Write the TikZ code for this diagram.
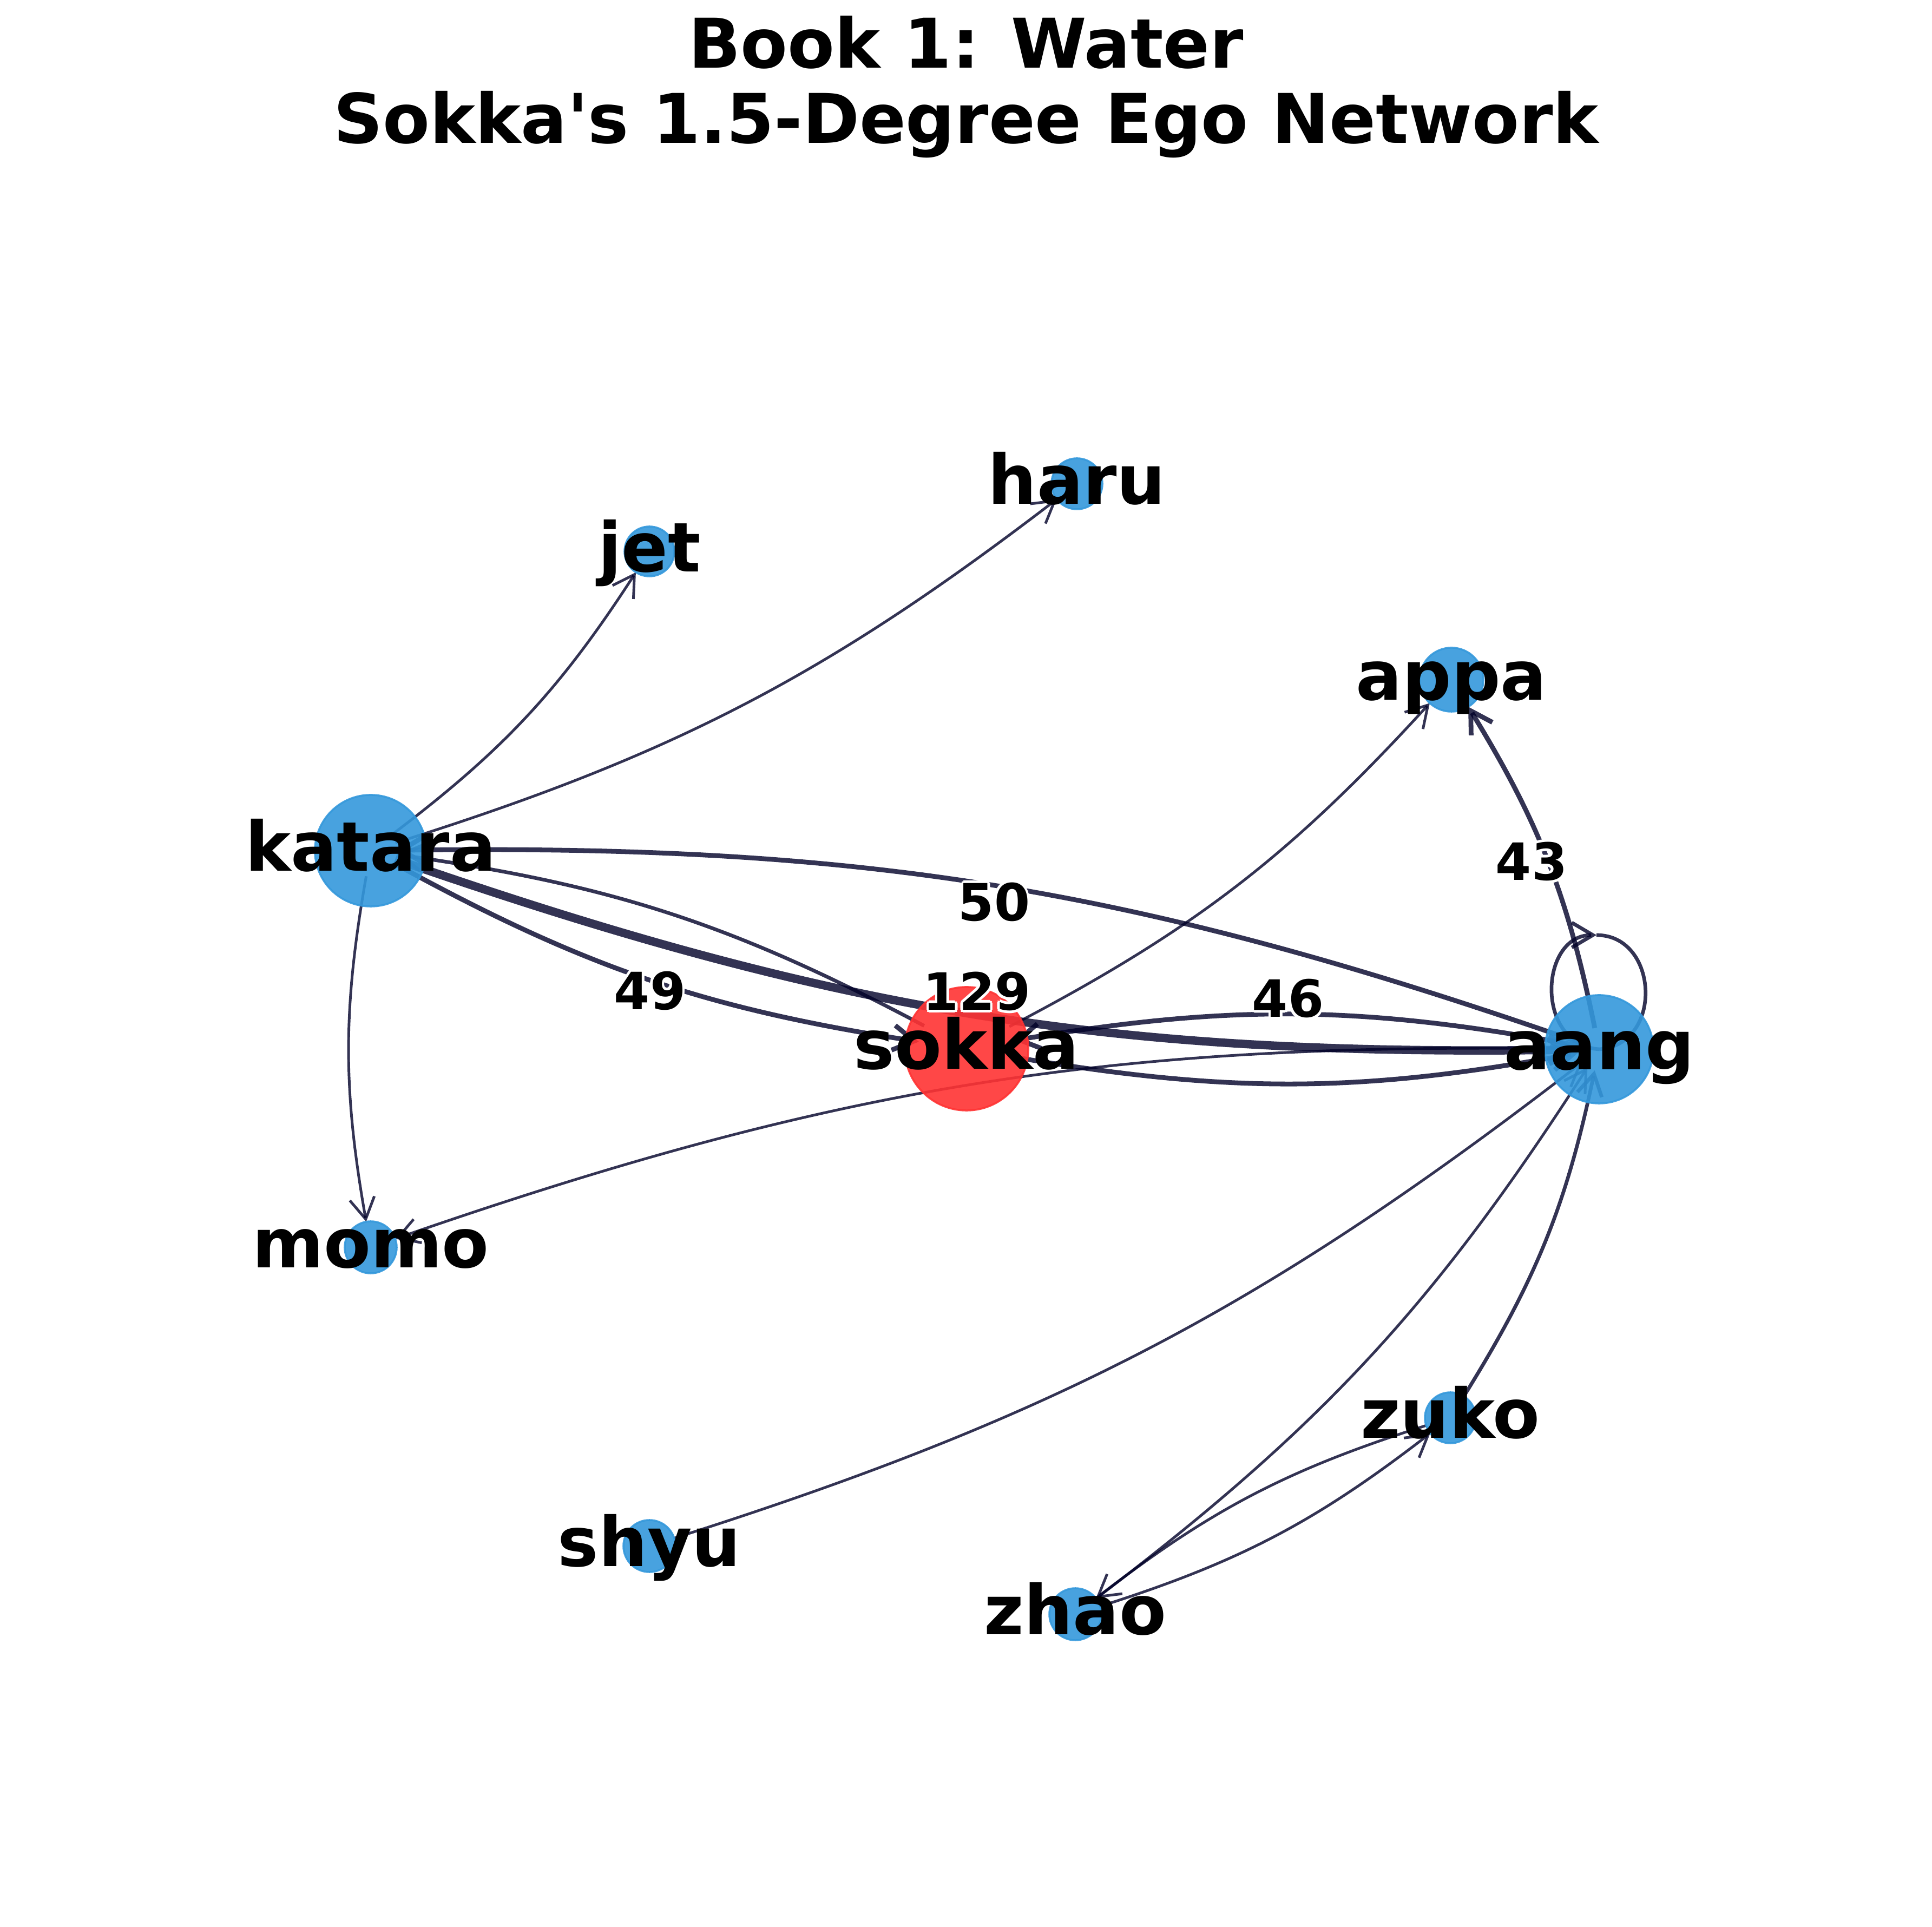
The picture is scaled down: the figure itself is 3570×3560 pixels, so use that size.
\documentclass[tikz,border=0pt]{standalone}
\usepackage{fontspec}
\setmainfont{DejaVu Sans}
\usetikzlibrary{arrows.meta}
\definecolor{nodeblue}{HTML}{3498DB}
\definecolor{egored}{HTML}{FF3333}
\definecolor{edgeink}{RGB}{0,0,40}
\pgfdeclarelayer{edgelayer}
\pgfsetlayers{edgelayer,main}
% white outline behind the weight numbers
\newcommand{\hcopy}[2]{\rlap{\kern#1\raise#2\copy0}}
\newcommand{\halo}[1]{\setbox0=\hbox{#1}{\color{white}%
  \hcopy{1.4pt}{0pt}\hcopy{-1.4pt}{0pt}\hcopy{0pt}{1.4pt}\hcopy{0pt}{-1.4pt}%
  \hcopy{1pt}{1pt}\hcopy{-1pt}{1pt}\hcopy{1pt}{-1pt}\hcopy{-1pt}{-1pt}}\box0}

\begin{document}
\begin{tikzpicture}[x=0.01cm,y=0.01cm,
                    ->,>={Straight Barb[length=0.39cm,width=0.46cm]},
                    main node/.style={circle,fill=nodeblue,draw=nodeblue,fill opacity=0.9,draw opacity=0.9,
                                      line width=1pt,inner sep=0pt,outer sep=0pt},
                    ego node/.style={main node,fill=egored,draw=egored},
                    name text/.style={font=\fontsize{36}{40}\selectfont\bfseries,text opacity=1,
                                      text height=28.8pt,text depth=7.2pt,inner sep=0pt,outer sep=0pt},
                    weight label/.style={font=\fontsize{27}{30}\selectfont\bfseries,inner sep=0pt},
                    title text/.style={font=\fontsize{36}{40}\selectfont\bfseries,inner sep=0pt,anchor=base},
                    light edge/.style={draw=edgeink,draw opacity=0.8,line width=1.4pt,bend right=10},
                    mid edge/.style={light edge,line width=1.9pt},
                    bold edge/.style={light edge,line width=2.5pt},
                    heavy edge/.style={light edge,line width=4.4pt}
                   ]
  \useasboundingbox (0,0) rectangle (3570,3560);

  \node[title text] (title) at (1785,3434) {Book 1: Water};
  \node[title text] (subtitle) at (1785,3295) {Sokka\textquotesingle{}s 1.5-Degree Ego Network};

  % big nodes: edges run on under the fill, as in the drawing
  \node[main node,minimum size=2.06cm,outer sep=-0.55cm,label={[name text]center:katara}] (katara) at (685,1988) {};
  \node[ego node,minimum size=2.28cm,outer sep=-0.25cm,label={[name text]center:sokka}] (sokka) at (1786,1622) {};
  \node[main node,minimum size=2.0cm,outer sep=-0.6cm,label={[name text]center:aang}] (aang) at (2955,1621) {};
  \node[main node,minimum size=1.18cm,label={[name text]center:appa}] (appa) at (2682,2304) {};
  \node[main node,minimum size=0.94cm,label={[name text]center:haru}] (haru) at (1990,2666) {};
  \node[main node,minimum size=0.92cm,label={[name text]center:jet}] (jet) at (1200,2541) {};
  \node[main node,minimum size=0.96cm,label={[name text]center:momo}] (momo) at (685,1255) {};
  \node[main node,minimum size=0.96cm,label={[name text]center:shyu}] (shyu) at (1200,703) {};
  \node[main node,minimum size=0.96cm,label={[name text]center:zhao}] (zhao) at (1987,577) {};
  \node[main node,minimum size=0.94cm,label={[name text]center:zuko}] (zuko) at (2680,940) {};
  \coordinate (loop top) at (2950,1832);

  \begin{pgfonlayer}{edgelayer}
  \path%
    (katara) edge[light edge] (jet)
             edge[light edge] (haru)
             edge[light edge] (momo)
             edge[bold edge] (sokka)
             edge[heavy edge] (aang)
    (sokka)  edge[mid edge] (katara)
             edge[bold edge] (aang)
             edge[light edge] (appa)
    (aang)   edge[bold edge] (katara)
             edge[bold edge] (sokka)
             edge[bold edge] (appa)
             edge[light edge] (momo)
    (shyu)   edge[light edge] (aang)
    (zhao)   edge[light edge] (aang)
             edge[light edge] (zuko)
    (zuko)   edge[mid edge] (aang)
             edge[light edge] (zhao);
  \draw[mid edge] (aang.center) .. controls (2835,1630) and (2845,1832) .. (loop top);
  \draw[mid edge,-] (loop top) .. controls (3065,1832) and (3075,1630) .. (aang.center);
  \end{pgfonlayer}

  \node[weight label] (w50) at (1837,1893) {\halo{50}};
  \node[weight label] (w49) at (1201,1729) {\halo{49}};
  \node[weight label] (w129) at (1805,1728) {\halo{129}};
  \node[weight label] (w46) at (2380,1715) {\halo{46}};
  \node[weight label] (w43) at (2830,1968) {\halo{43}};
\end{tikzpicture}
\end{document}
